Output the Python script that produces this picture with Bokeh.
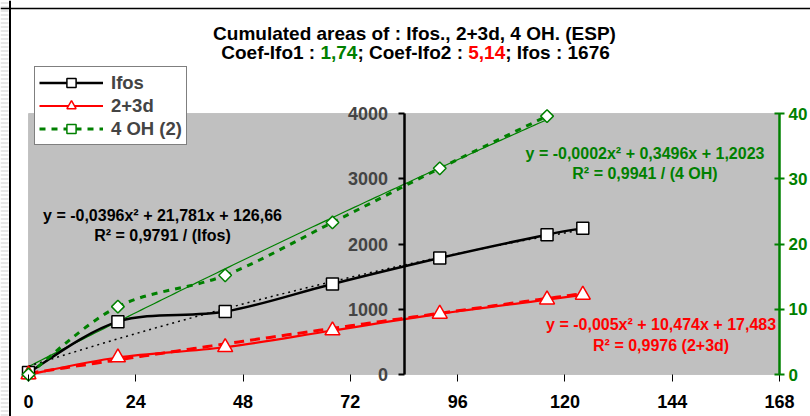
import numpy as np
from bokeh.plotting import figure
from bokeh.models import (Range1d, LinearAxis, FixedTicker, Label, Legend,
                          LegendItem, ColumnDataSource, BoxAnnotation, Span)
from bokeh.embed import file_html
from bokeh.resources import INLINE

# ---------------- data ----------------
hours = [0, 20, 44, 68, 92, 116, 124]
ifos = [30, 810, 964, 1388, 1786, 2143, 2240]
d23 = [0, 260, 418, 674, 929, 1148, 1220]
oh4_hours = [0, 20, 44, 68, 92, 116]
oh4 = [0, 10.4, 15.2, 23.3, 31.6, 39.6]

x_ticks = [0, 24, 48, 72, 96, 120, 144, 168]
left_ticks = [0, 1000, 2000, 3000, 4000]
right_ticks = [0, 10, 20, 30, 40]

fit_ifos = [-0.0396, 21.781, 126.66]
fit_d23 = [-0.005, 10.474, 17.483]
fit_oh4 = [-0.0002, 0.3496, 1.2023]

eq_ifos = ["y = -0,0396x\u00b2 + 21,781x + 126,66", "R\u00b2 = 0,9791 / (Ifos)"]
eq_d23 = ["y = -0,005x\u00b2 + 10,474x + 17,483", "R\u00b2 = 0,9976 (2+3d)"]
eq_oh4 = ["y = -0,0002x\u00b2 + 0,3496x + 1,2023", "R\u00b2 = 0,9941 / (4 OH)"]

title1 = "Cumulated areas of : Ifos., 2+3d, 4 OH. (ESP)"
title2_parts = [("Coef-Ifo1 :", "black"), ("1,74", "#008000"),
                ("; Coef-Ifo2 :", "black"), ("5,14", "#FF0000"),
                ("; Ifos : 1676", "black")]

FONT = "Liberation Sans"
GREEN = "#008000"
RED = "#FF0000"

# ---------------- layout (pixels) ----------------
W, H = 810, 416
X0_PX, XMAX_PX = 28.0, 779.0      # x = 0 and x = 168
Y0_PX, YTOP_PX = 374.0, 113.0     # y = 0 and y = 4000
sx = (XMAX_PX - X0_PX) / 168.0
sy = (Y0_PX - YTOP_PX) / 4000.0


def xd(px):
    return (px - X0_PX) / sx


def yd(py):
    return (Y0_PX - py) / sy


p = figure(width=W, height=H, output_backend="svg", toolbar_location=None,
           x_range=Range1d(xd(0), xd(W)), y_range=Range1d(yd(H), yd(0)),
           x_axis_location=None, y_axis_location=None, min_border=0)
p.extra_y_ranges = {"right": Range1d(yd(H) / 100.0, yd(0) / 100.0)}
p.background_fill_color = "white"
p.border_fill_color = "white"
p.outline_line_color = None
p.xgrid.visible = False
p.ygrid.visible = False

# sheet stripes at the left, chart border
p.add_layout(BoxAnnotation(left=xd(0), right=xd(8), fill_alpha=0, line_color=None,
                           hatch_pattern="horizontal_line", hatch_color="#cfcfcf",
                           hatch_scale=4, hatch_weight=1, level="underlay"))
p.add_layout(Span(location=xd(9.5), dimension="height", line_color="black", line_width=2))
p.add_layout(Span(location=yd(8), dimension="width", line_color="black", line_width=1.5))

# plot area
p.add_layout(BoxAnnotation(left=0, right=168, bottom=0, top=4000, fill_color="#C0C0C0",
                           fill_alpha=1, line_color="#808080", line_width=1,
                           level="underlay"))

# x axis
xa = LinearAxis(ticker=FixedTicker(ticks=x_ticks), fixed_location=0, bounds=(0, 168))
xa.axis_line_color = None
xa.major_tick_in = 0
xa.major_tick_out = 7
xa.major_tick_line_color = "black"
xa.minor_tick_line_color = None
xa.major_label_standoff = 13
xa.major_label_text_font = FONT
xa.major_label_text_font_style = "bold"
xa.major_label_text_font_size = "18px"
xa.major_label_text_color = "black"
p.add_layout(xa, "below")

# left axis, crossing at x = 84
la = LinearAxis(ticker=FixedTicker(ticks=left_ticks), fixed_location=84, bounds=(0, 4000))
la.axis_line_width = 2.5
la.axis_line_color = "black"
la.major_tick_in = 0
la.major_tick_out = 6
la.major_tick_line_width = 2
la.minor_tick_line_color = None
la.major_label_standoff = 10
la.major_label_text_font = FONT
la.major_label_text_font_style = "bold"
la.major_label_text_font_size = "18px"
p.add_layout(la, "left")

# right axis (green)
ra = LinearAxis(y_range_name="right", ticker=FixedTicker(ticks=right_ticks),
                fixed_location=168, bounds=(0, 40))
ra.axis_line_width = 2.5
ra.axis_line_color = GREEN
ra.major_tick_in = 5
ra.major_tick_out = 5
ra.major_tick_line_width = 2
ra.major_tick_line_color = GREEN
ra.minor_tick_line_color = None
ra.major_label_standoff = 4
ra.major_label_text_font = FONT
ra.major_label_text_font_style = "bold"
ra.major_label_text_font_size = "17px"
ra.major_label_text_color = GREEN
p.add_layout(ra, "right")


# ---------------- helpers ----------------
def smooth_source(xs, ys):
    xs = np.asarray(xs, float)
    ys = np.asarray(ys, float)
    n = len(xs)
    px = np.concatenate([[xs[0]], xs, [xs[-1]]])
    py = np.concatenate([[ys[0]], ys, [ys[-1]]])
    return ColumnDataSource(dict(
        x0=xs[:-1], y0=ys[:-1], x1=xs[1:], y1=ys[1:],
        cx0=xs[:-1] + (px[2:n + 1] - px[0:n - 1]) / 6.0,
        cy0=ys[:-1] + (py[2:n + 1] - py[0:n - 1]) / 6.0,
        cx1=xs[1:] - (px[3:n + 2] - px[1:n]) / 6.0,
        cy1=ys[1:] - (py[3:n + 2] - py[1:n]) / 6.0,
    ))


def trend(coefs, xmax):
    xs = np.linspace(0, xmax, 125)
    return xs, np.polyval(coefs, xs)


# ---------------- trendlines ----------------
tx, ty = trend(fit_oh4, oh4_hours[-1])
p.line(tx, ty, line_color=GREEN, line_width=1.2, y_range_name="right")
tx, ty = trend(fit_ifos, hours[-1])
p.line(tx, ty, line_color="black", line_width=1.5, line_dash="2 4")
tx, ty = trend(fit_d23, hours[-1])
p.line(tx, ty, line_color=RED, line_width=3, line_dash="10 6")

# ---------------- series ----------------
bk = dict(x0="x0", y0="y0", x1="x1", y1="y1", cx0="cx0", cy0="cy0", cx1="cx1", cy1="cy1")
r_ifos_line = p.bezier(source=smooth_source(hours, ifos), line_color="black",
                       line_width=2.5, **bk)
r_d23_line = p.bezier(source=smooth_source(hours, d23), line_color=RED,
                      line_width=2.2, **bk)
r_oh4_line = p.bezier(source=smooth_source(oh4_hours, oh4), line_color=GREEN,
                      line_width=3, line_dash="6 6", y_range_name="right", **bk)

r_ifos_pts = p.scatter(hours, ifos, marker="square", size=12, fill_color="white",
                       line_color="black", line_width=1.5)
r_d23_pts = p.scatter(hours, d23, marker="triangle", size=15, fill_color="white",
                      line_color=RED, line_width=1.5)
r_oh4_pts = p.scatter(oh4_hours, oh4, marker="square", angle=np.pi / 4, size=9,
                      fill_color="white", line_color=GREEN, line_width=1.5,
                      y_range_name="right")

# ---------------- legend ----------------
legend = Legend(items=[
    LegendItem(label="Ifos", renderers=[r_ifos_line, r_ifos_pts]),
    LegendItem(label="2+3d", renderers=[r_d23_line, r_d23_pts]),
    LegendItem(label="4 OH (2)", renderers=[r_oh4_line, r_oh4_pts]),
], location=(34, H - 145))
legend.label_text_font = FONT
legend.label_text_font_style = "bold"
legend.label_text_font_size = "18.5px"
legend.glyph_width = 64
legend.glyph_height = 23
legend.label_height = 23
legend.label_standoff = 8
legend.spacing = 0
legend.padding = 4
legend.margin = 0
legend.border_line_color = "black"
legend.border_line_width = 1.5
legend.background_fill_color = "white"
legend.background_fill_alpha = 1
p.add_layout(legend, "center")


# ---------------- texts (screen units: from left, from bottom) ----------------
def add_text(txt, cx, base_py, color, size, align="center"):
    p.add_layout(Label(x=cx, y=H - base_py, x_units="screen", y_units="screen",
                       text=txt, text_align=align, text_baseline="alphabetic",
                       text_font=FONT, text_font_style="bold",
                       text_font_size=size, text_color=color))


add_text(eq_ifos[0], 162, 215, "black", "16px")
add_text(eq_ifos[1], 162, 235, "black", "16px")
add_text(eq_oh4[0], 644.5, 152.7, GREEN, "16px")
add_text(eq_oh4[1], 644.5, 173.3, GREEN, "16px")
add_text(eq_d23[0], 660.6, 324, RED, "16px")
add_text(eq_d23[1], 660.6, 345, RED, "16px")

AW = {'C': .722, 'o': .611, 'e': .556, 'f': .333, '-': .333, 'I': .278, '1': .556,
      ' ': .278, ':': .333, ',': .278, '7': .556, '4': .556, ';': .333, '2': .556,
      '5': .556, 's': .556, '6': .556}


def tw(s, size):
    return sum(AW.get(c, .556) for c in s) * size


TS = 19
add_text(title1, 414, 33, "black", f"{TS}px")

widths = [tw(t, TS) for t, _ in title2_parts]
space = tw(" ", TS)
gaps = [space, 0, space, 0, 0]
total = sum(widths) + sum(gaps)
xpos = 415 - total / 2
for (t, c), w, g in zip(title2_parts, widths, gaps):
    add_text(t, xpos, 52, c, f"{TS}px", align="left")
    xpos += w + g

open("out.html", "w").write(file_html(p, INLINE))
